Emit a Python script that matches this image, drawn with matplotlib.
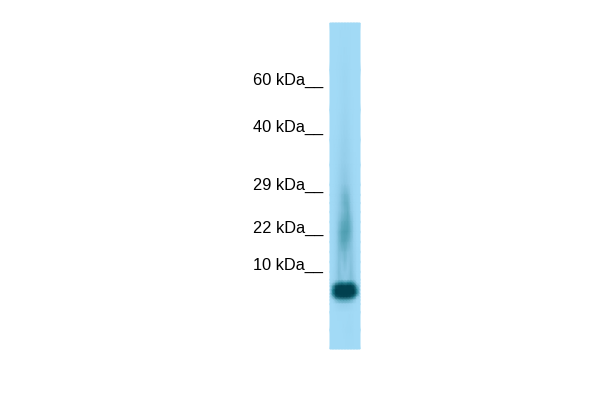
import numpy as np
import matplotlib
matplotlib.use('Agg')
import matplotlib.pyplot as plt
from matplotlib.colors import LinearSegmentedColormap

plt.rcParams['font.family'] = ['Liberation Sans', 'DejaVu Sans']

# marker ladder
marker_labels = ['60 kDa__', '40 kDa__', '29 kDa__', '22 kDa__', '10 kDa__']
marker_y = [85, 132, 190, 233, 270]

# lane samples, darkness read by eye (0 = plain lane, 1 = darkest band)
lane_x = [330, 333, 336, 339, 342, 345, 348, 351, 354, 357, 360]
lane_y = [23, 70, 110, 140, 165, 185, 195, 203, 212, 222, 232, 242, 252, 262, 272, 280,
          283, 286, 290, 294, 297, 300, 304, 312, 330, 349]
darkness = [
    [0.00, 0.00, 0.00, 0.00, 0.00, 0.00, 0.00, 0.00, 0.00, 0.00, 0.00],
    [0.00, 0.00, 0.00, 0.01, 0.02, 0.03, 0.02, 0.00, 0.00, 0.00, 0.00],
    [0.00, 0.00, 0.00, 0.01, 0.03, 0.04, 0.03, 0.01, 0.00, 0.00, 0.00],
    [0.00, 0.00, 0.01, 0.03, 0.06, 0.08, 0.06, 0.02, 0.00, 0.00, 0.00],
    [0.00, 0.00, 0.02, 0.05, 0.09, 0.10, 0.08, 0.04, 0.01, 0.00, 0.00],
    [0.00, 0.00, 0.03, 0.08, 0.14, 0.17, 0.13, 0.06, 0.02, 0.00, 0.00],
    [0.00, 0.01, 0.04, 0.10, 0.22, 0.30, 0.26, 0.09, 0.02, 0.00, 0.00],
    [0.00, 0.01, 0.04, 0.12, 0.24, 0.34, 0.33, 0.12, 0.03, 0.00, 0.00],
    [0.00, 0.01, 0.05, 0.13, 0.22, 0.30, 0.36, 0.16, 0.04, 0.00, 0.00],
    [0.00, 0.01, 0.07, 0.20, 0.34, 0.40, 0.42, 0.26, 0.06, 0.00, 0.00],
    [0.00, 0.02, 0.08, 0.28, 0.44, 0.48, 0.46, 0.30, 0.07, 0.00, 0.00],
    [0.00, 0.02, 0.08, 0.26, 0.40, 0.42, 0.34, 0.22, 0.07, 0.00, 0.00],
    [0.00, 0.02, 0.08, 0.22, 0.24, 0.30, 0.20, 0.18, 0.08, 0.01, 0.00],
    [0.00, 0.02, 0.08, 0.20, 0.16, 0.24, 0.15, 0.19, 0.09, 0.01, 0.00],
    [0.00, 0.03, 0.09, 0.22, 0.14, 0.16, 0.13, 0.22, 0.10, 0.01, 0.00],
    [0.00, 0.04, 0.10, 0.22, 0.20, 0.14, 0.18, 0.24, 0.16, 0.02, 0.00],
    [0.00, 0.10, 0.40, 0.60, 0.68, 0.60, 0.68, 0.70, 0.45, 0.06, 0.00],
    [0.02, 0.45, 0.90, 0.98, 1.00, 0.98, 1.00, 1.00, 0.88, 0.35, 0.01],
    [0.04, 0.70, 1.00, 1.00, 1.00, 1.00, 1.00, 1.00, 1.00, 0.65, 0.02],
    [0.04, 0.70, 1.00, 1.00, 1.00, 1.00, 1.00, 1.00, 1.00, 0.62, 0.01],
    [0.01, 0.35, 0.85, 0.95, 0.98, 0.98, 0.98, 0.92, 0.72, 0.20, 0.00],
    [0.00, 0.06, 0.30, 0.45, 0.50, 0.50, 0.48, 0.38, 0.20, 0.03, 0.00],
    [0.00, 0.00, 0.04, 0.08, 0.10, 0.10, 0.09, 0.06, 0.02, 0.00, 0.00],
    [0.00, 0.00, 0.00, 0.01, 0.01, 0.01, 0.01, 0.01, 0.00, 0.00, 0.00],
    [0.00, 0.00, 0.00, 0.00, 0.00, 0.01, 0.02, 0.02, 0.00, 0.00, 0.00],
    [0.00, 0.00, 0.00, 0.00, 0.00, 0.00, 0.00, 0.00, 0.00, 0.00, 0.00],
]

blot_cmap = LinearSegmentedColormap.from_list(
    'blot', [(0.0, '#a2daf6'), (0.15, '#8ec8e4'), (0.4, '#5ea9bd'), (0.7, '#1f7f90'), (1.0, '#01404f')])

fig = plt.figure(figsize=(6, 4), dpi=100)
ax = fig.add_axes([0, 0, 1, 1])
ax.set_xlim(0, 600)
ax.set_ylim(400, 0)
ax.axis('off')

ax.pcolormesh(lane_x, lane_y, np.array(darkness), cmap=blot_cmap, vmin=0, vmax=1,
              shading='gouraud')

for label, y in zip(marker_labels, marker_y):
    ax.text(323, y, label, ha='right', va='baseline', fontsize=11.8, color='black')

fig.savefig('out.png', dpi=100)
